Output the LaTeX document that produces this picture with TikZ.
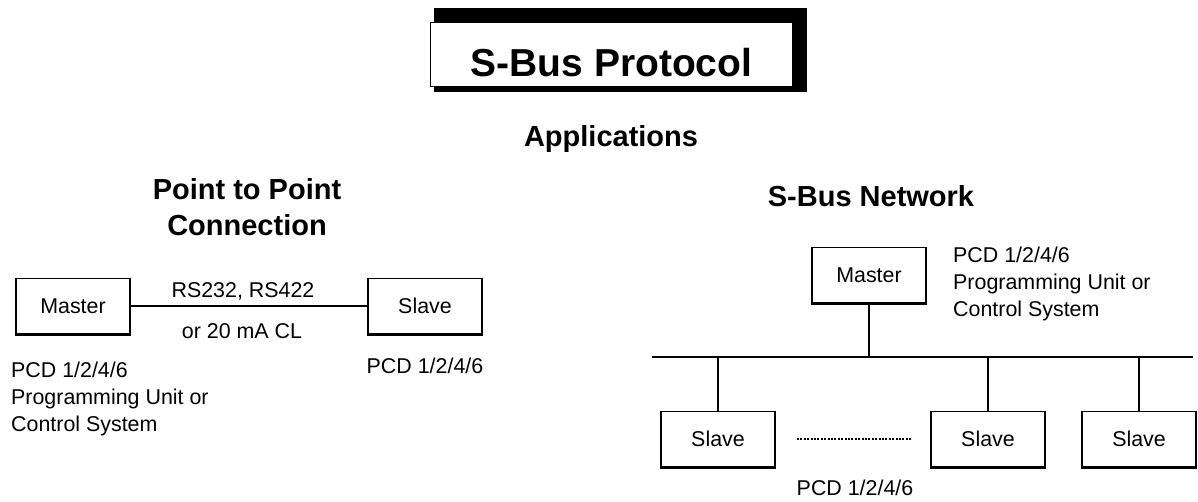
\documentclass[tikz,border=0pt]{standalone}
\usepackage{fontspec}
\setmainfont{Liberation Sans}
\usetikzlibrary{positioning}

\begin{document}
\begin{tikzpicture}
[x=1pt,y=-1pt,
 every node/.style={inner sep=0pt,font=\fontsize{21.4}{27}\selectfont},
 box/.style={draw,line width=1.8pt,minimum width=114pt,minimum height=55pt},
 head/.style={font=\fontsize{29}{36}\bfseries\selectfont,align=center},
 lbl/.style={align=left,anchor=north west},
 wire/.style={line width=2pt}]

\useasboundingbox (0,0) rectangle (1198,502);

% title
\node[fill=black,anchor=north west,minimum width=373pt,minimum height=84pt] (shade) at (434,8) {};
\node[draw,fill=white,line width=0.8pt,anchor=south west,minimum width=362pt,text height=49pt,text depth=5pt,inner ysep=5pt,font=\fontsize{39}{47}\bfseries\selectfont] (title) at (430,87) {S-Bus Protocol};

\node[head,anchor=base] (app) at (611,147) {Applications};
\node[head,anchor=north] (ptp) at (247,178) {Point to Point\\Connection};
\node[head,anchor=base] (net) at (871,207) {S-Bus Network};

% point to point
\node[box] (m1) at (73,306) {Master};
\node[box] (s1) at (425,306) {Slave};
\draw[wire] (m1) -- (s1);
\node[anchor=base] (rs) at (243,298) {RS232, RS422};
\node[anchor=base] (cl) at (242,338) {or 20 mA CL};
\node[lbl] (m1txt) at (11,362) {PCD 1/2/4/6\\Programming Unit or\\Control System};
\node[anchor=base] (s1txt) at (425,373) {PCD 1/2/4/6};

% network
\node[box] (nm) at (869,275) {Master};
\node[lbl] (nmtxt) at (953,247) {PCD 1/2/4/6\\Programming Unit or\\Control System};
\coordinate (busl) at (652,357);
\coordinate (busr) at (1193,357);
\draw[wire] (busl) -- (busr);
\draw[wire] (nm) -- (nm |- busl);
\node[box] (sl1) at (718,439) {Slave};
\node[box] (sl2) at (988,439) {Slave};
\node[box] (sl3) at (1139,439) {Slave};
\foreach \n in {sl1,sl2,sl3}
  \draw[wire] (\n) -- (\n |- busl);
\draw[line width=2.6pt,dash pattern=on 2pt off 1.4pt] ([xshift=21pt]sl1.east) -- ([xshift=-19pt]sl2.west);
\node[anchor=base] (sltxt) at (855,495) {PCD 1/2/4/6};

% heavier lower edge
\foreach \n in {m1,s1,nm,sl1,sl2,sl3}
  \draw[line width=2.5pt] (\n.south west) -- (\n.south east);

\end{tikzpicture}
\end{document}
